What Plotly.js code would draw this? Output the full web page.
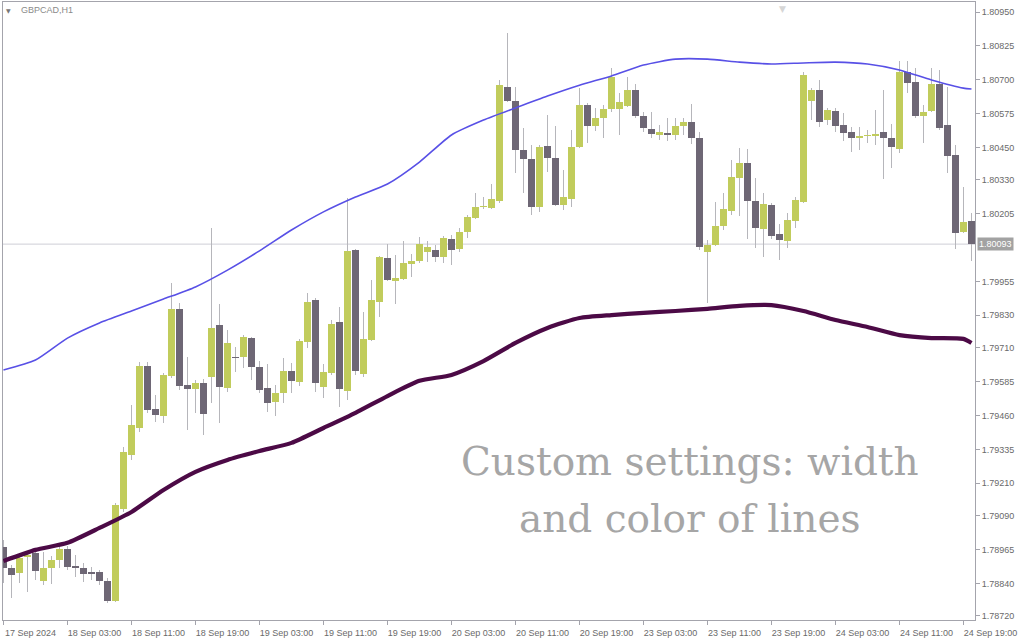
<!DOCTYPE html>
<html><head><meta charset="utf-8">
<script src="https://cdn.plot.ly/plotly-3.0.1.min.js"></script>
<style>html,body{margin:0;padding:0;background:#fff}#chart{width:1024px;height:640px}</style>
</head><body><div id="chart"></div>
<script>
// ---- data (GBPCAD H1) ----
const symbol = "GBPCAD,H1";
const sessionDays = ["17 Sep","18 Sep","19 Sep","20 Sep","23 Sep","24 Sep"];
const sessionFirstHour = [19,0,0,0,0,0];
const sessionLastHour = [23,23,23,23,23,20];

const open = [1.78975,1.78897,1.78879,1.78938,1.78953,1.78849,1.78897,1.78927,1.78967,1.78905,
1.78897,1.78883,1.78883,1.78849,1.78775,1.79115,1.79314,1.79414,1.79643,1.79484,
1.79458,1.79606,1.79854,1.79573,1.79558,1.79580,1.79602,1.79794,1.79562,1.79676,
1.79676,1.79746,1.79639,1.79562,1.79510,1.79543,1.79625,1.79584,1.79732,1.79887,
1.79566,1.79617,1.79806,1.79551,1.80071,1.79614,1.79739,1.79879,1.80042,1.79957,
1.79964,1.80020,1.80031,1.80064,1.80071,1.80046,1.80112,1.80075,1.80138,1.80189,
1.80230,1.80226,1.80252,1.80673,1.80621,1.80441,1.80407,1.80230,1.80455,1.80411,
1.80238,1.80260,1.80452,1.80607,1.80529,1.80559,1.80592,1.80592,1.80603,1.80662,
1.80566,1.80518,1.80496,1.80503,1.80496,1.80529,1.80544,1.80485,1.80064,1.80090,
1.80160,1.80215,1.80337,1.80393,1.80252,1.80149,1.80238,1.80130,1.80105,1.80178,
1.80249,1.80621,1.80662,1.80551,1.80585,1.80533,1.80507,1.80485,1.80492,1.80492,
1.80507,1.80485,1.80444,1.80728,1.80692,1.80566,1.80585,1.80684,1.80533,1.80422,
1.80138,1.80178];
const high = [1.79001,1.78908,1.78945,1.78953,1.78964,1.78956,1.78942,1.78982,1.78978,1.78945,
1.78916,1.78901,1.78890,1.78860,1.79137,1.79344,1.79499,1.79658,1.79658,1.79536,
1.79617,1.79950,1.79876,1.79676,1.79591,1.79595,1.80153,1.79872,1.79776,1.79713,
1.79757,1.79750,1.79661,1.79650,1.79573,1.79673,1.79654,1.79743,1.79913,1.79894,
1.79650,1.79813,1.79861,1.80263,1.80075,1.79842,1.79961,1.80049,1.80094,1.80053,
1.80105,1.80057,1.80119,1.80105,1.80090,1.80123,1.80127,1.80153,1.80201,1.80282,
1.80267,1.80315,1.80699,1.80872,1.80673,1.80522,1.80459,1.80459,1.80570,1.80529,
1.80367,1.80514,1.80669,1.80614,1.80596,1.80607,1.80743,1.80651,1.80710,1.80684,
1.80581,1.80581,1.80533,1.80559,1.80559,1.80559,1.80610,1.80507,1.80108,1.80249,
1.80282,1.80404,1.80448,1.80444,1.80337,1.80282,1.80245,1.80167,1.80208,1.80267,
1.80728,1.80669,1.80699,1.80596,1.80596,1.80577,1.80525,1.80525,1.80514,1.80588,
1.80662,1.80536,1.80769,1.80769,1.80743,1.80607,1.80743,1.80736,1.80673,1.80459,
1.80304,1.80208];
const low = [1.78842,1.78787,1.78842,1.78809,1.78853,1.78835,1.78838,1.78897,1.78890,1.78864,
1.78846,1.78853,1.78835,1.78768,1.78772,1.79104,1.79296,1.79399,1.79470,1.79436,
1.79433,1.79599,1.79555,1.79407,1.79470,1.79388,1.79506,1.79433,1.79547,1.79621,
1.79636,1.79591,1.79543,1.79473,1.79458,1.79506,1.79543,1.79569,1.79710,1.79547,
1.79525,1.79610,1.79492,1.79518,1.79610,1.79602,1.79735,1.79824,1.79957,1.79872,
1.79961,1.79972,1.80023,1.80027,1.80027,1.80023,1.80016,1.80064,1.80115,1.80186,
1.80223,1.80223,1.80245,1.80618,1.80356,1.80282,1.80201,1.80212,1.80359,1.80234,
1.80219,1.80230,1.80448,1.80466,1.80511,1.80485,1.80581,1.80496,1.80599,1.80559,
1.80507,1.80485,1.80477,1.80474,1.80477,1.80496,1.80463,1.80071,1.79876,1.80086,
1.80145,1.80201,1.80197,1.80112,1.80079,1.80046,1.80112,1.80034,1.80079,1.80153,
1.80245,1.80551,1.80525,1.80533,1.80507,1.80474,1.80433,1.80441,1.80466,1.80459,
1.80333,1.80374,1.80429,1.80651,1.80559,1.80466,1.80581,1.80514,1.80356,1.80075,
1.80134,1.80031];
const close = [1.78897,1.78871,1.78934,1.78945,1.78886,1.78897,1.78927,1.78967,1.78901,1.78897,
1.78875,1.78875,1.78849,1.78775,1.79130,1.79326,1.79425,1.79643,1.79481,1.79462,
1.79610,1.79854,1.79569,1.79558,1.79580,1.79466,1.79783,1.79566,1.79728,1.79673,
1.79750,1.79639,1.79555,1.79506,1.79543,1.79625,1.79588,1.79735,1.79879,1.79580,
1.79621,1.79798,1.79558,1.80068,1.79625,1.79743,1.79887,1.80046,1.79961,1.79968,
1.80023,1.80031,1.80094,1.80082,1.80046,1.80115,1.80071,1.80138,1.80193,1.80230,
1.80234,1.80260,1.80680,1.80621,1.80441,1.80407,1.80230,1.80452,1.80411,1.80238,
1.80267,1.80452,1.80607,1.80529,1.80559,1.80592,1.80710,1.80618,1.80662,1.80566,
1.80522,1.80500,1.80507,1.80496,1.80529,1.80544,1.80485,1.80082,1.80090,1.80160,
1.80223,1.80341,1.80393,1.80252,1.80153,1.80241,1.80123,1.80108,1.80182,1.80256,
1.80717,1.80662,1.80544,1.80588,1.80529,1.80503,1.80485,1.80492,1.80496,1.80500,
1.80485,1.80452,1.80728,1.80688,1.80566,1.80581,1.80684,1.80522,1.80418,1.80134,
1.80175,1.80093];

// moving averages, read at every 4th bar (and the last bar)
const maBars = [0,4,8,12,16,20,24,28,32,36,40,44,48,52,56,60,64,68,72,76,80,84,88,92,96,100,104,108,112,116,120,121];
const maFast = [1.79628,1.79665,1.79746,1.79802,1.79846,1.79890,1.79935,1.79997,1.80068,1.80145,
1.80212,1.80267,1.80315,1.80396,1.80496,1.80551,1.80596,1.80640,1.80680,1.80714,
1.80754,1.80776,1.80776,1.80765,1.80758,1.80762,1.80765,1.80758,1.80736,1.80699,
1.80669,1.80666];
const maSlow = [1.78923,1.78964,1.78990,1.79045,1.79104,1.79185,1.79252,1.79296,1.79329,1.79359,
1.79414,1.79470,1.79532,1.79588,1.79610,1.79661,1.79728,1.79783,1.79820,1.79831,
1.79839,1.79846,1.79854,1.79865,1.79868,1.79846,1.79813,1.79787,1.79757,1.79746,
1.79743,1.79728];

const xTickLabels = ["17 Sep 2024","18 Sep 03:00","18 Sep 11:00","18 Sep 19:00","19 Sep 03:00","19 Sep 11:00",
"19 Sep 19:00","20 Sep 03:00","20 Sep 11:00","20 Sep 19:00","23 Sep 03:00","23 Sep 11:00","23 Sep 19:00",
"24 Sep 03:00","24 Sep 11:00","24 Sep 19:00"];
const yTickLabels = ["1.80950","1.80825","1.80700","1.80575","1.80450","1.80330","1.80205","1.79955",
"1.79830","1.79710","1.79585","1.79460","1.79335","1.79210","1.79090","1.78965","1.78840","1.78720"];
const overlayText = ["Custom settings: width","and color of lines"];

// ---- build ----
const times = [];
sessionDays.forEach((d,i)=>{
  for(let h=sessionFirstHour[i]; h<=sessionLastHour[i]; h++){
    times.push(d+" "+String(h).padStart(2,"0")+":00");
  }
});
const up = close.map((c,i)=>c>=open[i]);
const bodyBase = open.map((o,i)=>Math.min(o,close[i]));
const bodyH = open.map((o,i)=>Math.max(Math.abs(close[i]-o),0.00004));
const wickH = high.map((h,i)=>h-low[i]);
const UPC = "#c1cc5c", DNC = "#6e6775", WICK = "#b6b6bb";

const traces = [
  {type:"bar", x:times, y:wickH, base:low, width:0.13,
   marker:{color:WICK, line:{width:0}}, hoverinfo:"skip"},
  {type:"bar", x:times, y:bodyH, base:bodyBase, width:0.82,
   marker:{color:up.map(u=>u?UPC:DNC), line:{width:0}}, hoverinfo:"skip"},
  {type:"scatter", mode:"lines", x:maBars.map(i=>times[i]), y:maFast,
   line:{color:"#5850e6", width:1.6, shape:"spline", smoothing:0.6}},
  {type:"scatter", mode:"lines", x:maBars.map(i=>times[i]), y:maSlow,
   line:{color:"#4c0a46", width:4.2, shape:"spline", smoothing:0.6}}
];

const last = close[close.length-1];
const tickFont = {family:"Liberation Sans, Arial, sans-serif", size:9, color:"#6a6a6a"};
const layout = {
  width:1024, height:640,
  margin:{l:3, r:49, t:2, b:20},
  paper_bgcolor:"#ffffff", plot_bgcolor:"#ffffff",
  showlegend:false, barmode:"overlay", bargap:0,
  xaxis:{type:"category", range:[-0.06,121.44], showgrid:false, zeroline:false,
    showline:true, linecolor:"#a4a4ac", linewidth:1, mirror:true,
    ticks:"outside", ticklen:4, tickcolor:"#a4a4ac",
    tickvals:xTickLabels.map((t,i)=>times[i*8]), ticktext:xTickLabels,
    tickfont:tickFont, ticklabelshift:27, fixedrange:true},
  yaxis:{side:"right", range:[1.78705,1.80987], showgrid:false, zeroline:false,
    showline:true, linecolor:"#a4a4ac", linewidth:1, mirror:true,
    ticks:"outside", ticklen:4, tickcolor:"#a4a4ac",
    tickvals:yTickLabels.map(Number), ticktext:yTickLabels, tickfont:tickFont, fixedrange:true},
  shapes:[{type:"line", xref:"paper", x0:0, x1:1, yref:"y", y0:last, y1:last,
    line:{color:"#cfcfd6", width:1}, layer:"below"}],
  annotations:[
    {xref:"paper", yref:"y", x:1, y:last, xanchor:"left", xshift:2, text:last.toFixed(5),
     showarrow:false, bgcolor:"#a2a2a2", borderpad:1, font:{family:"Liberation Sans, Arial", size:9, color:"#ffffff"}},
    {xref:"paper", yref:"paper", x:0.0165, y:0.987, xanchor:"left", yanchor:"middle", text:symbol,
     showarrow:false, font:{family:"Liberation Sans, Arial", size:9, color:"#8a8a8a"}},
    {xref:"paper", yref:"paper", x:0.0055, y:0.987, xanchor:"center", yanchor:"middle", text:"▼",
     showarrow:false, font:{family:"DejaVu Sans", size:6, color:"#777"}},
    {xref:"paper", yref:"paper", x:0.8015, y:1, xanchor:"center", yanchor:"top", text:"▼",
     showarrow:false, font:{family:"DejaVu Sans", size:9, color:"#d6d6d6"}},
    {xref:"paper", yref:"paper", x:0.7068, y:0.257, xanchor:"center", yanchor:"middle", text:overlayText[0],
     showarrow:false, font:{family:"DejaVu Serif, serif", size:39, color:"#a6a6a6"}},
    {xref:"paper", yref:"paper", x:0.7068, y:0.165, xanchor:"center", yanchor:"middle", text:overlayText[1],
     showarrow:false, font:{family:"DejaVu Serif, serif", size:39, color:"#a6a6a6"}}
  ]
};
Plotly.newPlot("chart", traces, layout, {staticPlot:true, displayModeBar:false});
</script>
</body></html>
